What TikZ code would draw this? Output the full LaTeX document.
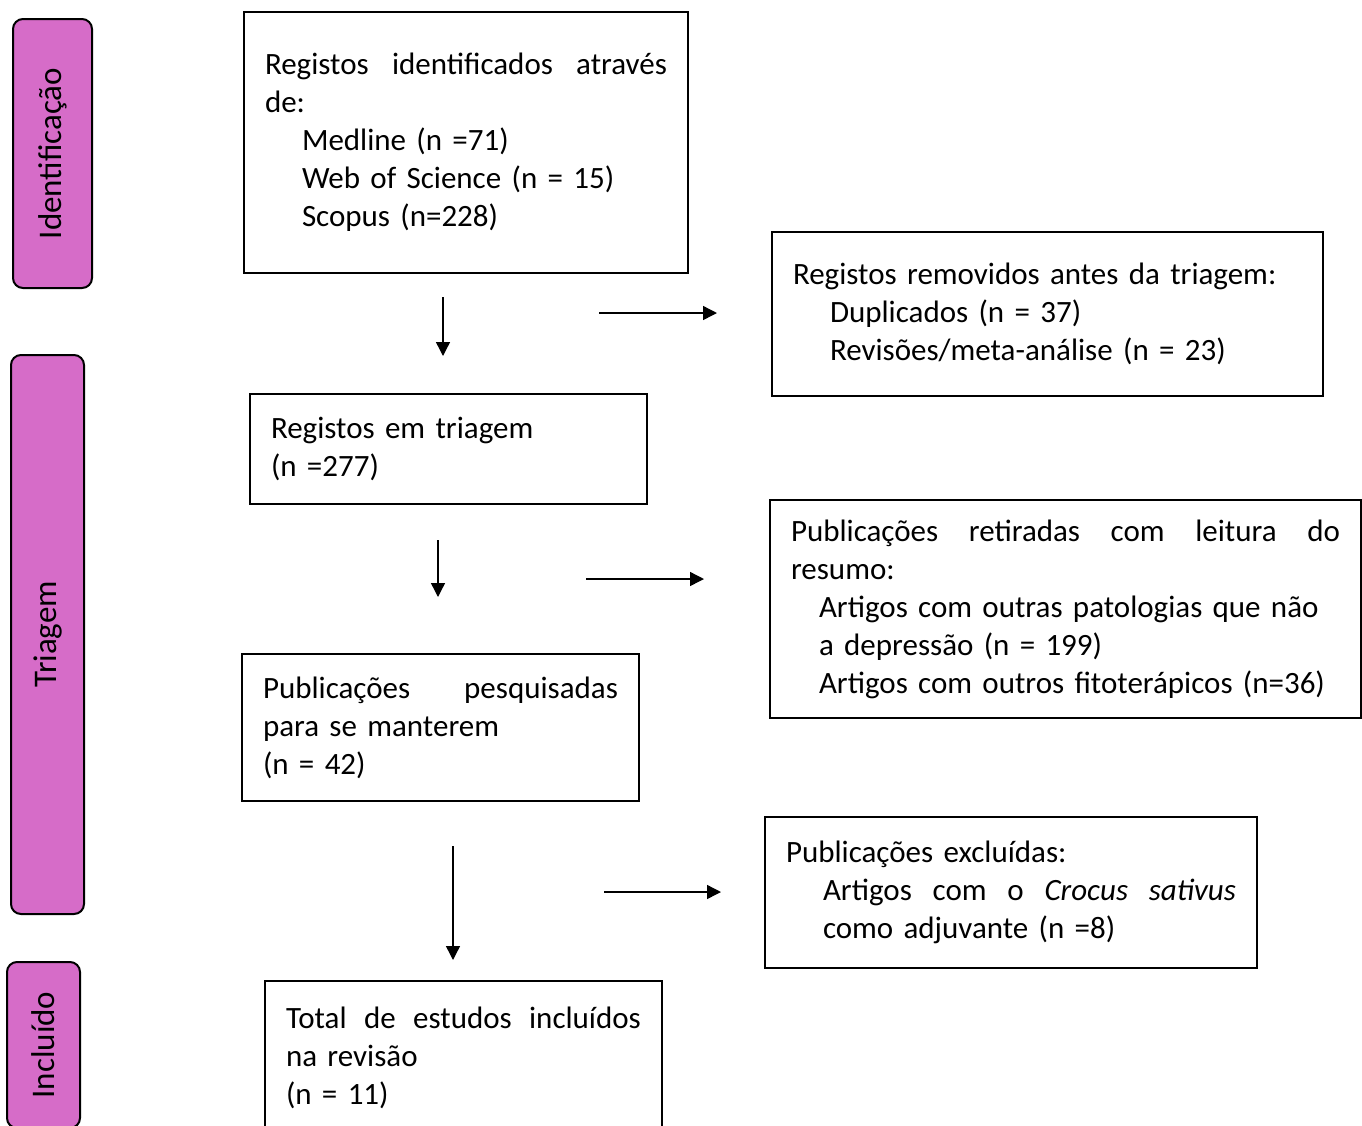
\documentclass[tikz,border=0pt]{standalone}
\usepackage{fontspec}
\setmainfont{Carlito}[WordSpace=0.7]
\usetikzlibrary{arrows.meta, positioning}
\definecolor{phasepink}{RGB}{214, 108, 200}
\newcommand{\subgap}{\hspace*{18.5pt}}

\begin{document}
\begin{tikzpicture}[x=0.5pt, y=-0.5pt,
    every node/.style={font=\fontsize{15.5}{19}\selectfont},
    stagebox/.style={draw, line width=1pt, anchor=north west, align=left,
                     inner xsep=10.5pt, inner ysep=0pt},
    phase/.style={draw, line width=1pt, fill=phasepink, rounded corners=5pt,
                  rotate=90, inner sep=0pt, font=\fontsize{16.5}{19}\selectfont},
    flow/.style={-{Triangle[length=7pt, width=7pt]}, line width=0.7pt}]
  \useasboundingbox (0,0) rectangle (1362,1126);

  % phases on the left
  \node[phase, minimum width=134.5pt, minimum height=39.5pt] (identphase) at (52.5,153.5) {Identificação};
  \node[phase, minimum width=279.5pt, minimum height=36.5pt] (triphase) at (47.5,634.5) {Triagem};
  \node[phase, minimum width=83pt, minimum height=36.5pt] (incphase) at (43.5,1045) {Incluído};

  % main column
  \node[stagebox, text width=201pt, minimum height=130.5pt] (ident) at (243,11)
    {\hbox to 201pt{Registos\hfill identificados\hfill através}\\
     de:\\
     \subgap Medline (n =71)\\
     \subgap Web of Science (n = 15)\\
     \subgap Scopus (n=228)};
  \node[stagebox, text width=177.5pt, minimum height=55pt] (screen) at (249,393)
    {Registos em triagem\\
     (n =277)};
  \node[stagebox, text width=177.5pt, minimum height=73.5pt] (sought) at (241,653)
    {\hbox to 177.5pt{Publicações\hfill pesquisadas}\\
     para se manterem\\
     (n = 42)};
  \node[stagebox, text width=177.5pt, minimum height=77pt] (total) at (264,980)
    {\hbox to 177.5pt{Total\hfill de\hfill estudos\hfill incluídos}\\
     na revisão\\
     (n = 11)};

  % exclusions
  \node[stagebox, text width=254.5pt, minimum height=82pt] (removed) at (771,231)
    {Registos removidos antes da triagem:\\
     \subgap Duplicados (n = 37)\\
     \subgap Revisões/meta-análise (n = 23)};
  \node[stagebox, text width=274.5pt, minimum height=109pt] (abstract) at (769,499)
    {\hbox to 274.5pt{Publicações\hfill retiradas\hfill com\hfill leitura\hfill do}\\
     resumo:\\
     \hspace*{14pt}Artigos com outras patologias que não\\
     \hspace*{14pt}a depressão (n = 199)\\
     \hspace*{14pt}Artigos com outros fitoterápicos (n=36)};
  \node[stagebox, text width=225pt, minimum height=75.5pt] (excluded) at (764,816)
    {Publicações excluídas:\\
     \subgap\hbox to 206.5pt{Artigos\hfill com\hfill o\hfill \textit{Crocus}\hfill \textit{sativus}}\\
     \subgap como adjuvante (n =8)};

  % arrows
  \foreach \n/\x/\ya/\yb in {a/443/297/356, b/438/540/597, c/453/846/960}{
    \coordinate (down\n top) at (\x,\ya);
    \coordinate (down\n end) at (\x,\yb);
    \draw[flow] (down\n top) -- (down\n end);
  }
  \foreach \n/\y/\xa/\xb in {a/313/599/717, b/579/586/704, c/892/604/721}{
    \coordinate (side\n start) at (\xa,\y);
    \coordinate (side\n end) at (\xb,\y);
    \draw[flow] (side\n start) -- (side\n end);
  }
\end{tikzpicture}
\end{document}
